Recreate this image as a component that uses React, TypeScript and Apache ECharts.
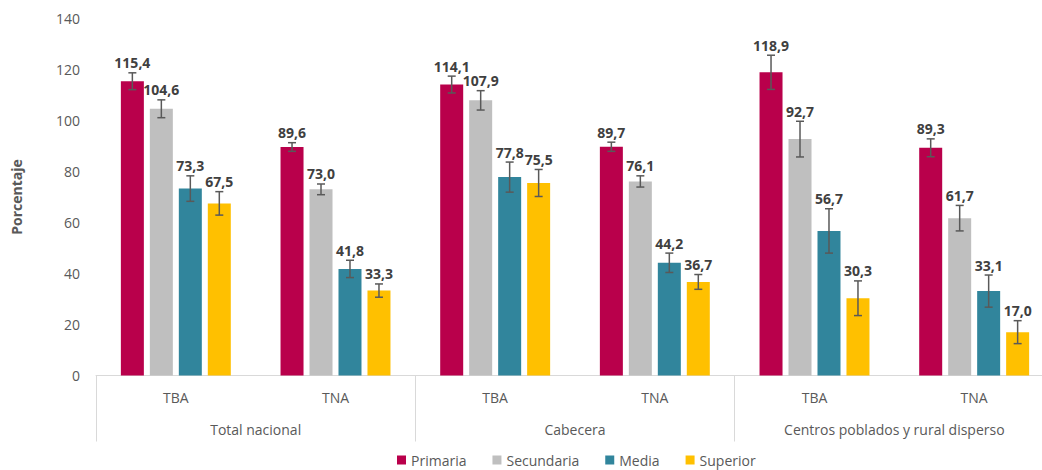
import React, { useEffect, useRef } from "react";
import * as echarts from "echarts";

const categories = ["TBA", "TNA", "TBA", "TNA", "TBA", "TNA"];
const groups = ["Total nacional", "Cabecera", "Centros poblados y rural disperso"];
const seriesNames = ["Primaria", "Secundaria", "Media", "Superior"];
const colors = ["#B9004B", "#BFBFBF", "#31859C", "#FFC000"];

const primaria = [115.4, 89.6, 114.1, 89.7, 118.9, 89.3];
const secundaria = [104.6, 73.0, 107.9, 76.1, 92.7, 61.7];
const media = [73.3, 41.8, 77.8, 44.2, 56.7, 33.1];
const superior = [67.5, 33.3, 75.5, 36.7, 30.3, 17.0];

const primariaErr = [3.3, 1.7, 3.3, 1.8, 6.7, 3.5];
const secundariaErr = [3.5, 2.1, 3.8, 2.2, 7.0, 5.0];
const mediaErr = [5.0, 3.4, 5.9, 3.8, 8.7, 6.3];
const superiorErr = [4.6, 2.6, 5.3, 2.9, 6.8, 4.5];

const yTicks = [0, 20, 40, 60, 80, 100, 120, 140];

const values = [primaria, secundaria, media, superior];
const errors = [primariaErr, secundariaErr, mediaErr, superiorErr];

const FONT = '"Open Sans", "Noto Sans", sans-serif';
const BAR_W = 23;
const BAR_GAP = 0.26;

const fmt = (v: number) => v.toFixed(1).replace(".", ",");

export default function App() {
  const ref = useRef<HTMLDivElement>(null);

  useEffect(() => {
    document.body.style.margin = "0";
    if (!ref.current) return;
    const chart = echarts.init(ref.current, undefined, { renderer: "svg" });

    const step = BAR_W * (1 + BAR_GAP);

    const barSeries = seriesNames.map((name, i) => ({
      name,
      type: "bar",
      data: values[i],
      barWidth: BAR_W,
      barGap: `${BAR_GAP * 100}%`,
      itemStyle: { color: colors[i] },
      z: 2,
    }));

    const errSeries = seriesNames.map((name, i) => ({
      name: name + "_err",
      type: "custom",
      xAxisIndex: 0,
      yAxisIndex: 0,
      z: 5,
      silent: true,
      encode: { x: 0, y: [1, 2] },
      data: values[i].map((v, k) => [k, v - errors[i][k], v + errors[i][k], v]),
      renderItem: (params: any, api: any) => {
        const x = api.value(0);
        const lo = api.coord([x, api.value(1)]);
        const hi = api.coord([x, api.value(2)]);
        const off = (i - 1.5) * step;
        const cx = lo[0] + off;
        const cap = 4;
        const lineStyle = { stroke: "#595959", lineWidth: 1.5 };
        return {
          type: "group",
          children: [
            { type: "line", shape: { x1: cx, y1: lo[1], x2: cx, y2: hi[1] }, style: lineStyle },
            { type: "line", shape: { x1: cx - cap, y1: lo[1], x2: cx + cap, y2: lo[1] }, style: lineStyle },
            { type: "line", shape: { x1: cx - cap, y1: hi[1], x2: cx + cap, y2: hi[1] }, style: lineStyle },
            {
              type: "text",
              x: cx,
              y: hi[1] - 3,
              style: {
                text: fmt(api.value(3)),
                align: "center",
                verticalAlign: "bottom",
                font: `bold 14px ${FONT}`,
                fill: "#404040",
              },
            },
          ],
        };
      },
    }));

    chart.setOption({
      animation: false,
      grid: { left: 96, top: 18.5, width: 958, bottom: 94.5, containLabel: false },
      legend: {
        data: seriesNames,
        left: 392,
        top: 448,
        icon: "rect",
        itemWidth: 9,
        itemHeight: 9,
        itemGap: 26,
        textStyle: { color: "#595959", fontSize: 14, fontFamily: FONT },
      },
      xAxis: [
        {
          type: "category",
          data: categories,
          position: "bottom",
          axisLine: { show: true, lineStyle: { color: "#D9D9D9", width: 1 } },
          axisTick: { show: false },
          axisLabel: { interval: 0, color: "#595959", fontSize: 14, fontFamily: FONT, margin: 15 },
        },
        {
          type: "category",
          data: groups,
          position: "bottom",
          gridIndex: 0,
          axisLine: { show: false },
          axisTick: { show: true, length: 66, lineStyle: { color: "#D9D9D9", width: 1 } },
          axisLabel: { interval: 0, color: "#595959", fontSize: 14, fontFamily: FONT, margin: 47 },
        },
      ],
      yAxis: {
        type: "value",
        min: yTicks[0],
        max: yTicks[yTicks.length - 1],
        interval: yTicks[1] - yTicks[0],
        name: "Porcentaje",
        nameLocation: "middle",
        nameGap: 73,
        nameTextStyle: { color: "#595959", fontSize: 14, fontWeight: "bold", fontFamily: FONT },
        axisLine: { show: false },
        axisTick: { show: false },
        splitLine: { show: false },
        axisLabel: { color: "#595959", fontSize: 14, fontFamily: FONT, margin: 16 },
      },
      series: [...barSeries, ...errSeries],
    });

    return () => chart.dispose();
  }, []);

  return (
    <div style={{ width: 1042, height: 470, overflow: "hidden", position: "relative" }}>
      <div ref={ref} style={{ width: 1060, height: 470 }} />
    </div>
  );
}
